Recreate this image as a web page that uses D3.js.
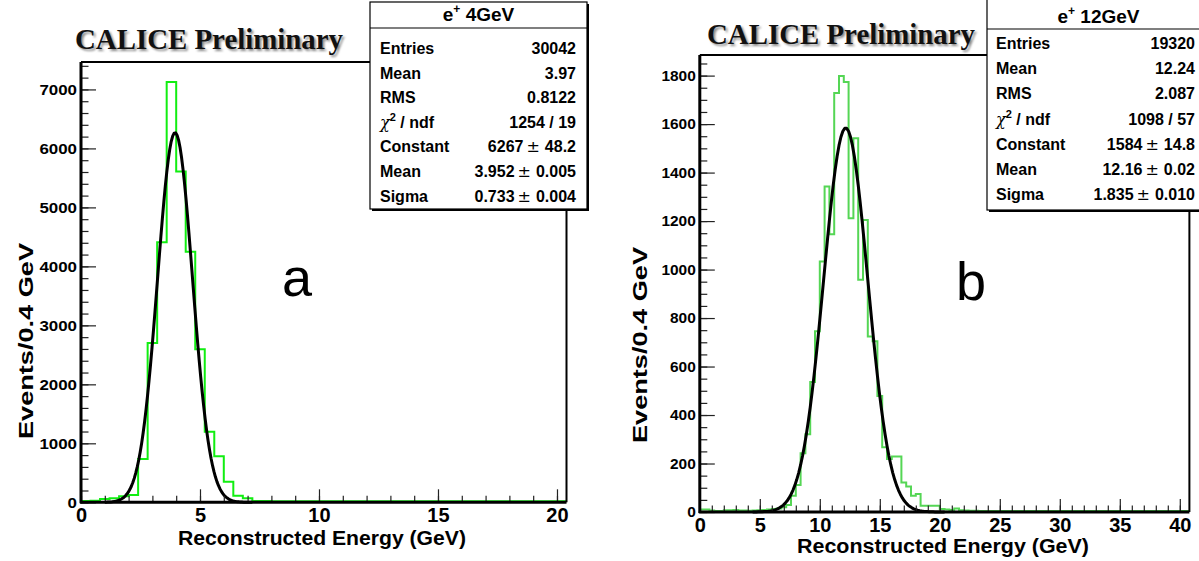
<!DOCTYPE html>
<html>
<head>
<meta charset="utf-8">
<script src="https://cdn.jsdelivr.net/npm/d3@7"></script>
<style>
  body { margin: 0; background: #fff; }
  svg { display: block; }
</style>
</head>
<body>
<svg id="chart" width="1199" height="561" font-family="Liberation Sans, Arial, sans-serif"></svg>
<script>
// ---- Data -------------------------------------------------------------
const binWidth = 0.4;

// e+ 4 GeV: events per 0.4 GeV bin, 0 – 20.4 GeV
const countsA = [
  3, 8, 39, 51, 85, 107, 717, 2683, 4390, 7110,
  5590, 4230, 2580, 1180, 762, 333, 95, 50, 4, 3,
  2, 2, 2, 1, 1, 1, 1, 1, 1, 1,
  1, 1, 0, 0, 0, 0, 0, 0, 0, 0,
  0, 0, 0, 0, 0, 0, 0, 0, 0, 0,
  0
];

// e+ 12 GeV: events per 0.4 GeV bin, 0 – 40.8 GeV
const countsB = [
  6, 6, 2, 0, 0, 3, 3, 4, 2, 2,
  1, 2, 3, 4, 6, 8, 10, 15, 25, 63,
  107, 238, 317, 532, 741, 1029, 1338, 1142, 1724, 1794,
  1769, 1208, 1537, 954, 1200, 720, 700, 474, 263, 214,
  225, 225, 118, 101, 63, 70, 22, 22, 22, 22,
  8, 6, 4, 10, 3, 2, 1, 1, 0, 0,
  0, 0, 0, 0, 0, 0, 0, 0, 0, 0,
  0, 0, 0, 0, 0, 0, 0, 0, 0, 0,
  0, 0, 0, 0, 0, 0, 0, 0, 0, 0,
  0, 0, 0, 0, 0, 0, 0, 0, 0, 0,
  0, 0
];

// Gaussian fit parameters [constant, mean, sigma] and fitted range
const fitA = [6267, 3.952, 0.733];
const fitRangeA = [1.0, 7.2];
const fitB = [1584, 12.16, 1.835];
const fitRangeB = [4.4, 20.4];

// Axis ticks
const xTicksA = [0, 5, 10, 15, 20];
const xMinorA = d3.range(0, 21, 1);
const yTicksA = [0, 1000, 2000, 3000, 4000, 5000, 6000, 7000];
const yMinorA = d3.range(0, 7401, 200);

const xTicksB = [0, 5, 10, 15, 20, 25, 30, 35, 40];
const xMinorB = d3.range(0, 41, 1);
const yTicksB = [0, 200, 400, 600, 800, 1000, 1200, 1400, 1600, 1800];
const yMinorB = d3.range(0, 1851, 50);

// Statistics boxes
const statNames = ["Entries", "Mean", "RMS", "chi2", "Constant", "Mean", "Sigma"];
const statsA = ["30042", "3.97", "0.8122", "1254 / 19", "6267|48.2", "3.952|0.005", "0.733|0.004"];
const statsB = ["19320", "12.24", "2.087", "1098 / 57", "1584|14.8", "12.16|0.02", "1.835|0.010"];
const titleA = "4GeV";
const titleB = "12GeV";

// ---- Drawing ----------------------------------------------------------
const svg = d3.select("#chart");
const SANS = "Liberation Sans, Arial, sans-serif";
const SERIF = "Liberation Serif, Times New Roman, serif";

// soft shadow used behind the "CALICE Preliminary" banner
const defs = svg.append("defs");
defs.append("filter").attr("id", "soft")
  .attr("x", "-5%").attr("y", "-20%").attr("width", "110%").attr("height", "140%")
  .append("feGaussianBlur").attr("stdDeviation", 1.1);

function drawPanel(p) {
  const g = svg.append("g");
  const x = d3.scaleLinear().domain([0, p.counts.length * binWidth]).range([p.left, p.right]);
  const y = d3.scaleLinear().domain([0, p.yMax]).range([p.bottom, p.top]);

  // histogram outline
  const pts = p.counts.map((c, i) => [i * binWidth, c]);
  pts.push([p.counts.length * binWidth, p.counts[p.counts.length - 1]]);
  const step = d3.line().x(d => x(d[0])).y(d => y(d[1]) - 1).curve(d3.curveStepAfter);
  g.append("path").attr("d", step(pts))
    .attr("fill", "none").attr("stroke", p.green).attr("stroke-width", 2);

  // Gaussian fit curve, sampled like ROOT (100 points)
  const [c0, mu, sg] = p.fit;
  const gx = d3.range(101).map(i => p.fitRange[0] + (p.fitRange[1] - p.fitRange[0]) * i / 100);
  const gauss = gx.map(v => [v, c0 * Math.exp(-0.5 * ((v - mu) / sg) ** 2)]);
  g.append("path")
    .attr("d", d3.line().x(d => x(d[0])).y(d => y(d[1]))(gauss))
    .attr("fill", "none").attr("stroke", "#000").attr("stroke-width", 3)
    .attr("stroke-linejoin", "round");

  // axes: ticks point into the frame, labels outside
  const yMajor = g.append("g").attr("transform", `translate(${p.left},0)`)
    .call(d3.axisLeft(y).tickValues(p.yTicks).tickSize(-p.yTickLen).tickPadding(p.yPad)
      .tickFormat(d3.format("d")));
  g.append("g").attr("transform", `translate(${p.left},0)`)
    .call(d3.axisLeft(y).tickValues(p.yMinor).tickSize(-p.yTickLen / 2).tickFormat(""))
    .select(".domain").remove();
  yMajor.select(".domain").remove();
  yMajor.selectAll("text")
    .attr("font-family", SANS)
    .attr("font-weight", "bold").attr("font-size", p.yFont).attr("fill", "#000")
    .attr("textLength", d => String(d).length * p.yDigitW).attr("lengthAdjust", "spacingAndGlyphs");

  const xMajor = g.append("g").attr("transform", `translate(0,${p.bottom})`)
    .call(d3.axisBottom(x).tickValues(p.xTicks).tickSize(-p.xTickLen).tickPadding(p.xPad)
      .tickFormat(d3.format("d")));
  g.append("g").attr("transform", `translate(0,${p.bottom})`)
    .call(d3.axisBottom(x).tickValues(p.xMinor).tickSize(-p.xTickLen / 2).tickFormat(""))
    .select(".domain").remove();
  xMajor.select(".domain").remove();
  xMajor.selectAll("text")
    .attr("font-family", SANS)
    .attr("font-weight", "bold").attr("font-size", p.xFont).attr("fill", "#000");
  g.selectAll(".tick line").attr("stroke", "#222").attr("stroke-width", 1.2);

  // frame
  g.append("line").attr("x1", p.left).attr("x2", p.right).attr("y1", p.top).attr("y2", p.top)
    .attr("stroke", "#000").attr("stroke-width", 2);
  g.append("line").attr("x1", p.right).attr("x2", p.right).attr("y1", p.top).attr("y2", p.bottom)
    .attr("stroke", "#000").attr("stroke-width", 2);
  g.append("line").attr("x1", p.left).attr("x2", p.left).attr("y1", p.top).attr("y2", p.bottom + 1)
    .attr("stroke", "#000").attr("stroke-width", 3);
  g.append("line").attr("x1", p.left - 1).attr("x2", p.right).attr("y1", p.bottom).attr("y2", p.bottom)
    .attr("stroke", "#000").attr("stroke-width", 3);

  // axis titles
  g.append("text").attr("x", p.xTitle[0]).attr("y", p.xTitle[1])
    .attr("text-anchor", "middle").attr("font-weight", "bold").attr("font-size", p.titleFont)
    .attr("textLength", p.xTitleW).attr("lengthAdjust", "spacingAndGlyphs")
    .text("Reconstructed Energy (GeV)");
  g.append("text")
    .attr("transform", `translate(${p.yTitle[0]},${p.yTitle[1]}) rotate(-90)`)
    .attr("text-anchor", "middle").attr("font-weight", "bold").attr("font-size", p.titleFont)
    .attr("textLength", p.yTitleW).attr("lengthAdjust", "spacingAndGlyphs")
    .text("Events/0.4 GeV");

  // big panel letter
  g.append("text").attr("x", p.letter[0]).attr("y", p.letter[1])
    .attr("font-size", 54).attr("text-anchor", "middle").text(p.letterText);

  // banner
  const bx = p.banner[0], by = p.banner[1];
  g.append("text").attr("x", bx + 2).attr("y", by + 2)
    .attr("font-family", SERIF).attr("font-weight", "bold")
    .attr("font-size", 29).attr("fill", "#8a8a8a").attr("filter", "url(#soft)")
    .attr("textLength", p.bannerW).attr("lengthAdjust", "spacingAndGlyphs")
    .text("CALICE Preliminary");
  g.append("text").attr("x", bx).attr("y", by)
    .attr("font-family", SERIF).attr("font-weight", "bold")
    .attr("font-size", 29).attr("fill", "#111")
    .attr("textLength", p.bannerW).attr("lengthAdjust", "spacingAndGlyphs")
    .text("CALICE Preliminary");

  // statistics box
  const s = p.box;
  g.append("rect").attr("x", s.x0 + 2).attr("y", s.y0 + 2).attr("width", s.x1 - s.x0).attr("height", s.y1 - s.y0)
    .attr("fill", "#000");
  g.append("rect").attr("x", s.x0).attr("y", s.y0).attr("width", s.x1 - s.x0).attr("height", s.y1 - s.y0)
    .attr("fill", "#fff").attr("stroke", "#000").attr("stroke-width", 1.2);
  g.append("line").attr("x1", s.x0).attr("x2", s.x1).attr("y1", s.sep).attr("y2", s.sep)
    .attr("stroke", "#000").attr("stroke-width", 1.2);
  const head = g.append("text").attr("x", (s.x0 + s.x1) / 2).attr("y", s.headY)
    .attr("text-anchor", "middle").attr("font-size", 19).attr("font-weight", 600);
  head.append("tspan").text("e");
  head.append("tspan").attr("font-size", 12).attr("dy", -8).text("+");
  head.append("tspan").attr("dy", 8).text(" " + p.title);

  p.stats.forEach((v, i) => {
    const yy = s.row0 + i * s.rowStep;
    const lab = g.append("text").attr("x", s.labX).attr("y", yy)
      .attr("font-weight", "bold").attr("font-size", 16);
    if (statNames[i] === "chi2") {
      lab.append("tspan").attr("font-family", "DejaVu Serif, serif").attr("font-weight", "normal")
        .attr("font-style", "italic").text("χ");
      lab.append("tspan").attr("font-size", 11).attr("dy", -7).text("2");
      lab.append("tspan").attr("dy", 7).text(" / ndf");
    } else {
      lab.text(statNames[i]);
    }
    const val = g.append("text").attr("x", s.valX).attr("y", yy)
      .attr("text-anchor", "end").attr("font-weight", "bold").attr("font-size", 16);
    if (v.includes("|")) {
      const [a, b] = v.split("|");
      val.append("tspan").text(a);
      val.append("tspan").attr("dx", 3).attr("font-weight", "normal")
        .attr("font-family", "DejaVu Sans, sans-serif").text("±");
      val.append("tspan").attr("dx", 5).text(b);
    } else {
      val.text(v);
    }
  });
}

drawPanel({
  counts: countsA, fit: fitA, fitRange: fitRangeA, green: "#11ee11",
  left: 81, right: 566.5, top: 62, bottom: 502.3, yMax: 7465,
  xTicks: xTicksA, xMinor: xMinorA, yTicks: yTicksA, yMinor: yMinorA,
  yTickLen: 15, xTickLen: 13, yPad: 4, xPad: 6, yFont: 15, yDigitW: 9.4, xFont: 20, titleFont: 20,
  xTitle: [322, 545], xTitleW: 288, yTitle: [33, 341], yTitleW: 196,
  letter: [297, 296], letterText: "a",
  banner: [75, 49], bannerW: 268,
  box: { x0: 370, x1: 587, y0: 2, y1: 209, sep: 28, headY: 21,
         labX: 380, valX: 576, row0: 54, rowStep: 24.6 },
  stats: statsA, title: titleA
});

drawPanel({
  counts: countsB, fit: fitB, fitRange: fitRangeB, green: "#55d655",
  left: 699.8, right: 1189.4, top: 55, bottom: 512, yMax: 1885,
  xTicks: xTicksB, xMinor: xMinorB, yTicks: yTicksB, yMinor: yMinorB,
  yTickLen: 15, xTickLen: 13, yPad: 4, xPad: 6, yFont: 15, yDigitW: 8.6, xFont: 20, titleFont: 20,
  xTitle: [943, 553], xTitleW: 292, yTitle: [647, 345], yTitleW: 196,
  letter: [971, 300], letterText: "b",
  banner: [707, 44], bannerW: 268,
  box: { x0: 987, x1: 1210, y0: -4, y1: 210, sep: 29, headY: 23,
         labX: 996, valX: 1195, row0: 49, rowStep: 25.2 },
  stats: statsB, title: titleB
});
</script>
</body>
</html>
